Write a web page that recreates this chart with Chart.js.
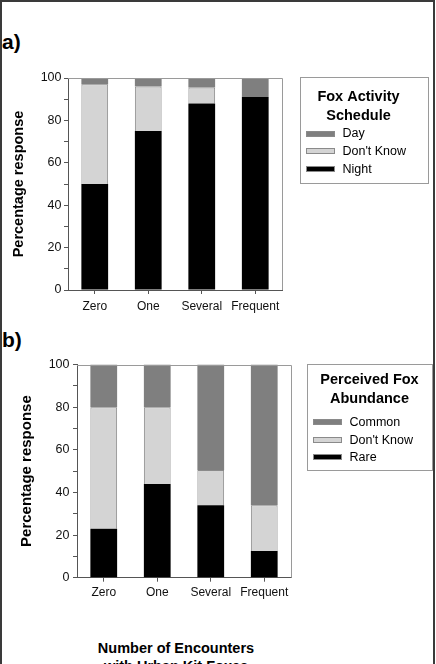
<!DOCTYPE html>
<html>
<head>
<meta charset="utf-8">
<script src="https://cdn.jsdelivr.net/npm/chart.js@4.4.1/dist/chart.umd.min.js"></script>
<style>
  html, body { margin: 0; padding: 0; background: #fff; overflow: hidden; }
  #page { position: relative; width: 436px; height: 664px; font-family: "Liberation Sans", Arial, sans-serif; }
  #frame { position: absolute; left: 0; top: 0; width: 431px; height: 700px;
           border-left: 2px solid #3a3a3a; border-top: 2px solid #3a3a3a; border-right: 2px solid #3a3a3a; }
  .panel { position: absolute; left: 2px; font-size: 21px; font-weight: bold; line-height: 21px; }
  #xTitle { position: absolute; left: 76px; width: 200px; top: 639px; text-align: center;
            font-size: 14.5px; font-weight: bold; line-height: 18px; }
  canvas { position: absolute; left: 0; }
</style>
</head>
<body>
<div id="page">
  <div id="frame"></div>
  <div class="panel" style="top:31px">a)</div>
  <div class="panel" style="top:329px">b)</div>
  <canvas id="activityChart" width="436" height="290" style="top:40px"></canvas>
  <canvas id="abundanceChart" width="436" height="300" style="top:330px"></canvas>
  <div id="xTitle">Number of Encounters<br>with Urban Kit Foxes</div>
</div>
<script>
// categories on the x axis (both panels)
const categories = ['Zero', 'One', 'Several', 'Frequent'];

// a) fox activity schedule (% of responses)
const activityNight = [50, 75, 88, 91];
const activityDontKnow = [47, 21, 7.5, 0];
const activityDay = [3, 4, 4.5, 9];

// b) perceived fox abundance (% of responses)
const abundanceRare = [23, 44, 34, 12.5];
const abundanceDontKnow = [57, 36, 16.5, 21.5];
const abundanceCommon = [20, 20, 49.5, 66];

const FONT = '"Liberation Sans", Arial, sans-serif';
const DARK = '#7f7f7f';
const LIGHT = '#d4d4d4';
const BLACK = '#000000';

// light frame on top/right of the plot area
const plotFrame = {
    id: 'plotFrame',
    afterDatasetsDraw(chart) {
        const { ctx, chartArea: a } = chart;
        ctx.save();
        ctx.strokeStyle = '#9a9a9a';
        ctx.lineWidth = 1;
        ctx.beginPath();
        ctx.moveTo(a.left, Math.round(a.top) + 0.5);
        ctx.lineTo(Math.round(a.right) + 0.5, Math.round(a.top) + 0.5);
        ctx.lineTo(Math.round(a.right) + 0.5, a.bottom);
        ctx.stroke();
        ctx.restore();
    }
};

// boxed legend with a two-line title, items taken from the datasets
const boxLegend = {
    id: 'boxLegend',
    afterDraw(chart, args, o) {
        const ctx = chart.ctx;
        ctx.save();
        ctx.strokeStyle = '#9a9a9a';
        ctx.lineWidth = 1;
        ctx.strokeRect(o.x + 0.5, o.y + 0.5, o.w, o.h);

        ctx.fillStyle = '#000';
        ctx.textAlign = 'center';
        ctx.textBaseline = 'alphabetic';
        ctx.font = 'bold 14.5px ' + FONT;
        [o.title1, o.title2].forEach((t, i) => ctx.fillText(t, o.titleX, o.titleY + i * 19));

        ctx.textAlign = 'left';
        ctx.textBaseline = 'middle';
        ctx.font = '12.5px ' + FONT;
        chart.data.datasets.slice().reverse().forEach((ds, i) => {
            const cy = o.itemY + i * 17.6;
            ctx.fillStyle = ds.backgroundColor;
            ctx.fillRect(o.swatchX, Math.round(cy) - 3, 29, 6);
            ctx.strokeStyle = '#8a8a8a';
            ctx.strokeRect(o.swatchX + 0.5, Math.round(cy) - 2.5, 28, 5);
            ctx.fillStyle = '#000';
            ctx.fillText(ds.label, o.swatchX + 36.5, cy + 0.5);
        });
        ctx.restore();
    }
};

function makeChart(id, sets, cfg) {
    return new Chart(document.getElementById(id), {
        type: 'bar',
        data: {
            labels: categories,
            datasets: sets.map(s => ({
                label: s.label,
                data: s.data,
                backgroundColor: s.color,
                borderColor: s.color === LIGHT ? '#8a8a8a' : s.color,
                borderWidth: s.color === LIGHT ? 1 : 0,
                categoryPercentage: 1,
                barPercentage: 0.5,
            })),
        },
        options: {
            responsive: false,
            animation: false,
            layout: { padding: { left: 0, right: cfg.padRight, top: cfg.padTop, bottom: cfg.padBottom } },
            plugins: {
                legend: { display: false },
                tooltip: { enabled: false },
                boxLegend: cfg.legend,
            },
            scales: {
                x: {
                    stacked: true,
                    afterFit: s => { s.height = 24; },
                    grid: { offset: false, drawOnChartArea: false, tickLength: 4, color: '#555' },
                    border: { color: '#555', width: 1 },
                    ticks: {
                        font: { family: FONT, size: 12 }, color: '#111', padding: cfg.xPad,
                        maxRotation: 0, minRotation: 0, autoSkip: false,
                    },
                },
                y: {
                    stacked: true,
                    min: 0,
                    max: 100,
                    afterFit: s => { s.width = cfg.yWidth; },
                    grid: { drawOnChartArea: false, tickLength: 4, color: '#555' },
                    border: { color: '#555', width: 1 },
                    ticks: {
                        stepSize: 10,
                        autoSkip: false,
                        callback: v => (v % 20 === 0 ? v : ''),
                        font: { family: FONT, size: cfg.yFont },
                        color: '#111',
                        padding: cfg.yPad,
                    },
                    title: {
                        display: true,
                        text: 'Percentage response',
                        color: '#000',
                        font: { family: FONT, size: cfg.titleFont, weight: 'bold' },
                        padding: { top: cfg.titlePad, bottom: 0 },
                    },
                },
            },
        },
        plugins: [plotFrame, boxLegend],
    });
}

makeChart('activityChart', [
    { label: 'Night', data: activityNight, color: BLACK },
    { label: "Don't Know", data: activityDontKnow, color: LIGHT },
    { label: 'Day', data: activityDay, color: DARK },
], {
    padRight: 154, padTop: 38, padBottom: 16, yWidth: 68,
    xPad: 5, yPad: 2.5, yFont: 12.5, titleFont: 14.5, titlePad: 10,
    legend: { x: 300, y: 37, w: 128, h: 106, title1: 'Fox Activity', title2: 'Schedule',
              titleX: 358.5, titleY: 60.5, itemY: 93.5, swatchX: 306 },
});

makeChart('abundanceChart', [
    { label: 'Rare', data: abundanceRare, color: BLACK },
    { label: "Don't Know", data: abundanceDontKnow, color: LIGHT },
    { label: 'Common', data: abundanceCommon, color: DARK },
], {
    padRight: 145, padTop: 34.5, padBottom: 28.3, yWidth: 77,
    xPad: 4, yPad: 3.5, yFont: 12.5, titleFont: 15, titlePad: 18,
    legend: { x: 307, y: 34, w: 125, h: 106, title1: 'Perceived Fox', title2: 'Abundance',
              titleX: 369.5, titleY: 54, itemY: 92, swatchX: 313 },
});
</script>
</body>
</html>
